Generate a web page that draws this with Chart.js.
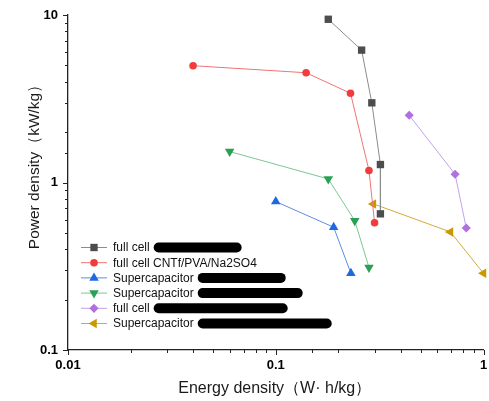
<!DOCTYPE html>
<html>
<head>
<meta charset="utf-8">
<script src="https://cdn.jsdelivr.net/npm/chart.js@4/dist/chart.umd.min.js"></script>
<style>
  body { margin: 0; background: #fff; }
  #wrap { width: 489px; height: 401px; }
</style>
</head>
<body>
<div id="wrap"><canvas id="ragone" width="489" height="401"></canvas></div>
<script>
// Energy density (Wh/kg) and power density (kW/kg) for each device
const fullCellE = [0.179, 0.259, 0.290, 0.319, 0.319];
const fullCellP = [9.43, 6.17, 2.99, 1.28, 0.65];
const cntfE = [0.040, 0.140, 0.229, 0.281, 0.299];
const cntfP = [4.98, 4.52, 3.41, 1.18, 0.575];
const superCap1E = [0.100, 0.190, 0.230];
const superCap1P = [0.769, 0.541, 0.287];
const superCap2E = [0.060, 0.179, 0.240, 0.281];
const superCap2P = [1.53, 1.05, 0.592, 0.311];
const fullCell2E = [0.439, 0.730, 0.826];
const fullCell2P = [2.52, 1.12, 0.535];
const superCap3E = [0.295, 0.693, 1.0];
const superCap3P = [0.745, 0.507, 0.287];

const seriesLabels = ['full cell', 'full cell CNTf/PVA/Na2SO4', 'Supercapacitor',
  'Supercapacitor', 'full cell', 'Supercapacitor'];
const xTickLabels = ['0.01', '0.1', '1'];
const yTickLabels = ['0.1', '1', '10'];

const FONT = "'Liberation Sans', Arial, sans-serif";
Chart.defaults.font.family = FONT;

// marker and line look per series
const looks = [
  { pt: '#4d4d4d', line: '#8c8c8c', style: 'rect', r: 5.2, rot: 0 },
  { pt: '#f23b3b', line: '#f07474', style: 'circle', r: 3.8, rot: 0 },
  { pt: '#1f68e0', line: '#5d8de3', style: 'triangle', r: 5.5, rot: 0 },
  { pt: '#2aa052', line: '#7cc893', style: 'triangle', r: 5.5, rot: 180 },
  { pt: '#b070e0', line: '#c2a2ea', style: 'rectRot', r: 4.6, rot: 0 },
  { pt: '#c99a00', line: '#d4ab33', style: 'triangle', r: 5.5, rot: 270 }
];
// redaction bar widths after each legend label (0 = none)
const barWidths = [88, 0, 88, 105, 134, 134];

function pairs(xs, ys) { return xs.map((x, i) => ({ x: x, y: ys[i] })); }
const seriesData = [
  pairs(fullCellE, fullCellP), pairs(cntfE, cntfP), pairs(superCap1E, superCap1P),
  pairs(superCap2E, superCap2P), pairs(fullCell2E, fullCell2P), pairs(superCap3E, superCap3P)
];

const datasets = seriesData.map((d, i) => ({
  label: seriesLabels[i],
  data: d,
  showLine: true,
  borderColor: looks[i].line,
  borderWidth: 1,
  backgroundColor: looks[i].pt,
  pointBackgroundColor: looks[i].pt,
  pointBorderColor: looks[i].pt,
  pointBorderWidth: 0,
  pointStyle: looks[i].style,
  pointRadius: looks[i].r,
  pointRotation: looks[i].rot,
  clip: false
}));

function isDecade(v) {
  const l = Math.log10(v);
  return Math.abs(l - Math.round(l)) < 1e-6;
}
function decadeLabel(list) {
  return function (value) {
    if (!isDecade(value)) return '';
    const s = list.find(t => Math.abs(parseFloat(t) - value) < 1e-9);
    return s || '';
  };
}

// outward major/minor tick marks on both axes
const tickMarks = {
  id: 'tickMarks',
  afterDraw(chart) {
    const ctx = chart.ctx;
    const xs = chart.scales.x, ys = chart.scales.y;
    ctx.save();
    ctx.strokeStyle = '#222';
    ctx.lineWidth = 1;
    ctx.beginPath();
    xs.ticks.forEach(t => {
      const px = Math.round(xs.getPixelForValue(t.value)) + 0.5;
      const len = isDecade(t.value) ? 5 : 3;
      ctx.moveTo(px, xs.top);
      ctx.lineTo(px, xs.top + len);
    });
    ys.ticks.forEach(t => {
      const py = Math.round(ys.getPixelForValue(t.value)) + 0.5;
      const len = isDecade(t.value) ? 5 : 3;
      ctx.moveTo(ys.right, py);
      ctx.lineTo(ys.right - len, py);
    });
    ctx.stroke();
    ctx.restore();
  }
};

// axis titles
const axisTitles = {
  id: 'axisTitles',
  afterDraw(chart) {
    const ctx = chart.ctx;
    const area = chart.chartArea;
    ctx.save();
    ctx.fillStyle = '#1a1a1a';
    ctx.textAlign = 'center';
    ctx.textBaseline = 'middle';
    ctx.font = '16px ' + FONT;
    ctx.fillText('Energy density（W· h/kg）', (area.left + area.right) / 2 - 1, 389);
    ctx.translate(35, 163);
    ctx.rotate(-Math.PI / 2);
    ctx.font = '15.5px ' + FONT;
    ctx.fillText('Power density（kW/kg）', 0, 0);
    ctx.restore();
  }
};

// legend box in the lower left of the plot
const sideLegend = {
  id: 'sideLegend',
  afterDraw(chart) {
    const ctx = chart.ctx;
    const x0 = 81, lineLen = 26, textX = 113, y0 = 247.5, step = 15.2;
    ctx.save();
    ctx.font = '12px ' + FONT;
    ctx.textBaseline = 'middle';
    chart.data.datasets.forEach((ds, i) => {
      const y = y0 + i * step;
      const lk = looks[i];
      ctx.strokeStyle = lk.line;
      ctx.lineWidth = 1;
      ctx.beginPath();
      ctx.moveTo(x0, y);
      ctx.lineTo(x0 + lineLen, y);
      ctx.stroke();
      ctx.fillStyle = lk.pt;
      ctx.strokeStyle = lk.pt;
      Chart.helpers.drawPoint(ctx, { pointStyle: lk.style, radius: lk.r, rotation: lk.rot, borderWidth: 0 }, x0 + lineLen / 2, y);
      ctx.fillStyle = '#111';
      ctx.fillText(ds.label, textX, y + 0.5);
      if (barWidths[i]) {
        const bx = textX + ctx.measureText(ds.label).width + 4;
        ctx.fillStyle = '#000';
        ctx.beginPath();
        ctx.roundRect(bx, y - 5, barWidths[i], 10, 5);
        ctx.fill();
      }
    });
    ctx.restore();
  }
};

new Chart(document.getElementById('ragone').getContext('2d'), {
  type: 'scatter',
  data: { datasets: datasets },
  options: {
    responsive: false,
    animation: false,
    layout: { padding: { top: 15, right: 2, left: 0, bottom: 0 } },
    plugins: { legend: { display: false }, tooltip: { enabled: false } },
    scales: {
      x: {
        type: 'logarithmic',
        position: 'bottom',
        min: 0.01,
        max: 1,
        grid: { display: false, drawTicks: false },
        border: { display: true, color: '#222', width: 1.3 },
        ticks: {
          callback: decadeLabel(xTickLabels),
          autoSkip: false,
          maxRotation: 0,
          padding: 8,
          color: '#000',
          font: { size: 13, weight: 'bold' }
        },
        afterFit(s) { s.height = 51; s.paddingLeft = 0; s.paddingRight = 0; }
      },
      y: {
        type: 'logarithmic',
        position: 'left',
        min: 0.1,
        max: 10,
        grid: { display: false, drawTicks: false },
        border: { display: true, color: '#222', width: 1.3 },
        ticks: {
          callback: decadeLabel(yTickLabels),
          autoSkip: false,
          padding: 10,
          color: '#000',
          font: { size: 13, weight: 'bold' }
        },
        afterFit(s) { s.width = 68; s.paddingTop = 0; s.paddingBottom = 0; }
      }
    }
  },
  plugins: [tickMarks, axisTitles, sideLegend]
});
</script>
</body>
</html>
